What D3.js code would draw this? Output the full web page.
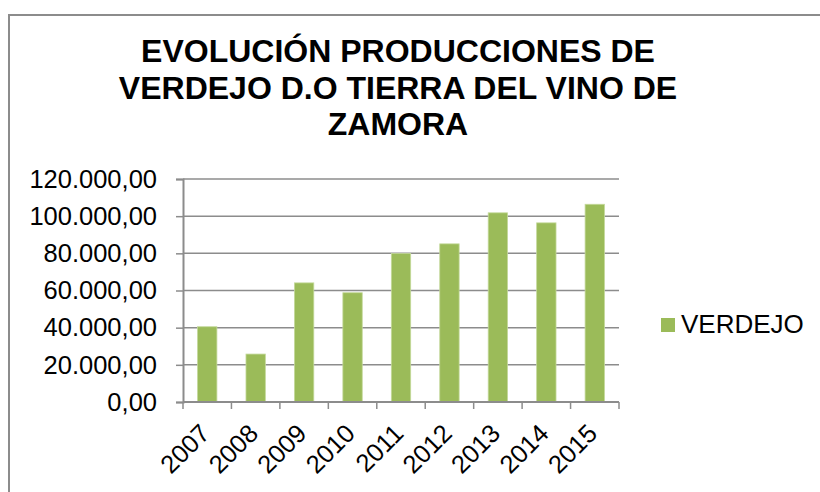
<!DOCTYPE html>
<html>
<head>
<meta charset="utf-8">
<script src="https://cdn.jsdelivr.net/npm/d3@7"></script>
<style>
  body { margin: 0; background: #fff; }
  svg { display: block; font-family: "Liberation Sans", Arial, sans-serif; }
</style>
</head>
<body>
<svg id="chart" width="820" height="492"></svg>
<script>
// chart data
const years = ["2007", "2008", "2009", "2010", "2011", "2012", "2013", "2014", "2015"];
const verdejo = [40500, 25800, 64100, 58800, 79900, 85100, 101800, 96400, 106400];
const yTicks = [0, 20000, 40000, 60000, 80000, 100000, 120000];
const titleLines = ["EVOLUCIÓN PRODUCCIONES DE", "VERDEJO D.O TIERRA DEL VINO DE", "ZAMORA"];
const seriesName = "VERDEJO";

let svg = d3.select("#chart");

let margin = {top: 179, left: 183, right: 201, bottom: 90},
    width = 820 - margin.left - margin.right,
    height = 492 - margin.top - margin.bottom;

// chart area border (runs off the window on right and bottom)
svg.append("rect")
    .attr("x", 9)
    .attr("y", 15)
    .attr("width", 830)
    .attr("height", 500)
    .attr("fill", "none")
    .attr("stroke", "#8c8c8c")
    .attr("stroke-width", 2);

// title
svg.append("text")
    .attr("text-anchor", "middle")
    .attr("font-weight", "bold")
    .attr("font-size", 32)
    .attr("fill", "#000")
    .selectAll("tspan")
    .data(titleLines)
    .enter().append("tspan")
    .attr("x", 398)
    .attr("y", (d, i) => 62 + i * 36.5)
    .text(d => d);

let xScale = d3.scaleBand()
    .domain(years)
    .range([0, width])
    .paddingInner(0.6)
    .paddingOuter(0.3);

let yScale = d3.scaleLinear()
    .domain([0, 120000])
    .range([height, 0]);

let fmt = d3.formatLocale({decimal: ",", thousands: ".", grouping: [3], currency: ["", "€"]}).format(",.2f");

let g = svg.append("g")
    .attr("transform", "translate(" + margin.left + "," + margin.top + ")");

// gridlines
g.selectAll(".grid")
    .data(yTicks)
    .enter().append("line")
    .attr("class", "grid")
    .attr("x1", 0)
    .attr("x2", width)
    .attr("y1", d => yScale(d))
    .attr("y2", d => yScale(d))
    .style("stroke", "#8c8c8c")
    .style("stroke-width", 1.5);

// bars
g.selectAll(".bar")
    .data(verdejo)
    .enter().append("rect")
    .attr("class", "bar")
    .attr("x", (d, i) => xScale(years[i]))
    .attr("y", d => yScale(d))
    .attr("width", xScale.bandwidth())
    .attr("height", d => height - yScale(d))
    .attr("fill", "#9bbb59")
    .attr("stroke", "#c4d99b")
    .attr("stroke-width", 0.8);

// y axis
let yAxis = d3.axisLeft(yScale)
    .tickValues(yTicks)
    .tickFormat(fmt)
    .tickSize(7)
    .tickPadding(19);

let yG = g.append("g").call(yAxis);
yG.select(".domain").attr("stroke", "#8c8c8c").attr("stroke-width", 2);
yG.selectAll(".tick line").attr("stroke", "#8c8c8c").attr("stroke-width", 1.5);
yG.selectAll(".tick text")
    .attr("font-size", 25.5)
    .attr("fill", "#000")
    .attr("font-family", "Liberation Sans, Arial, sans-serif");

// x axis with ticks between categories
let xG = g.append("g").attr("transform", "translate(0," + height + ")");
xG.append("line")
    .attr("x1", 0).attr("x2", width)
    .attr("stroke", "#8c8c8c").attr("stroke-width", 2);
xG.selectAll(".xtick")
    .data(d3.range(years.length + 1))
    .enter().append("line")
    .attr("class", "xtick")
    .attr("x1", i => i * width / years.length)
    .attr("x2", i => i * width / years.length)
    .attr("y1", 0).attr("y2", 7)
    .attr("stroke", "#8c8c8c").attr("stroke-width", 1.5);
xG.selectAll(".xlabel")
    .data(years)
    .enter().append("text")
    .attr("class", "xlabel")
    .attr("text-anchor", "end")
    .attr("font-size", 25.5)
    .attr("fill", "#000")
    .attr("transform", d => "translate(" + (xScale(d) + xScale.bandwidth() / 2 + 4) + ",33) rotate(-45)")
    .text(d => d);

// legend
svg.append("rect")
    .attr("x", 661).attr("y", 318)
    .attr("width", 14).attr("height", 14)
    .attr("fill", "#9bbb59");
svg.append("text")
    .attr("x", 681).attr("y", 333)
    .attr("font-size", 26)
    .attr("fill", "#000")
    .text(seriesName);
</script>
</body>
</html>
